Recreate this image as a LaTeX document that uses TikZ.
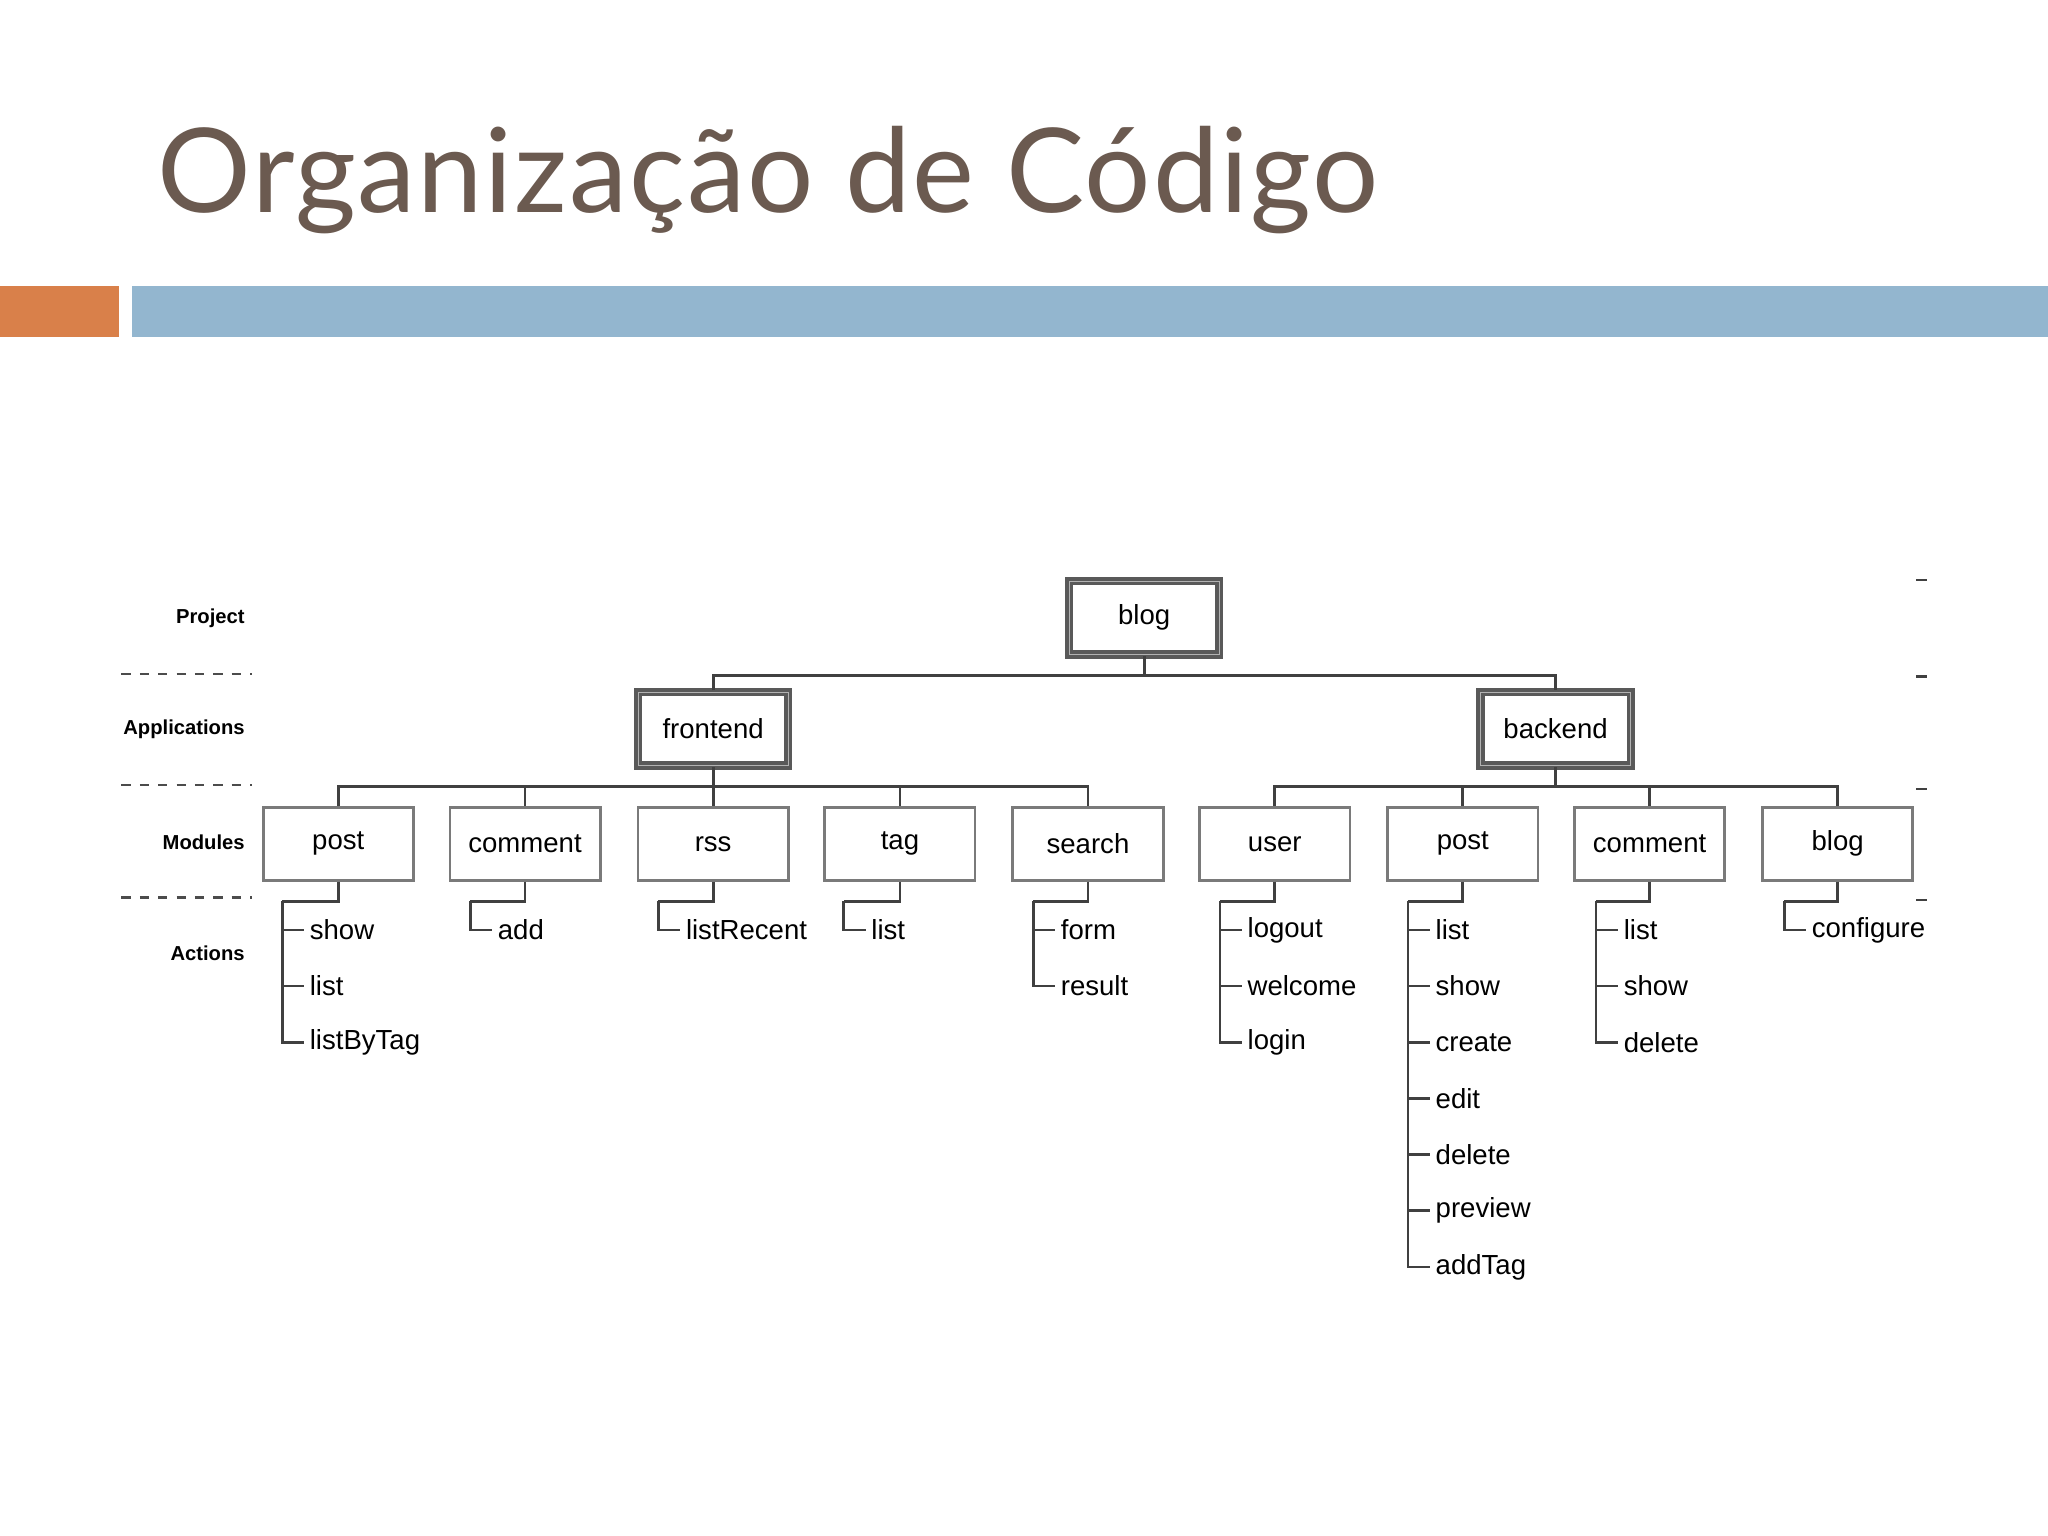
\documentclass[tikz,border=0pt]{standalone}
\usepackage{fontspec}
\setmainfont{Liberation Sans}
\newfontfamily\titlefont[LetterSpace=1.5]{Lato}
\definecolor{titlec}{HTML}{6B5A50}
\definecolor{orangebar}{HTML}{D9804A}
\definecolor{bluebar}{HTML}{93B6CF}
\definecolor{boxc}{HTML}{7A7A7A}
\tikzset{
  mod/.style={draw=boxc,line width=0.6pt,minimum width=1.15cm,minimum height=0.56cm,inner sep=0pt,font=\fontsize{6}{7}\selectfont},
  top/.style={mod,draw=black!65,line width=0.8pt,double=black!30,double distance=0.2pt},
  act/.style={inner xsep=1pt,inner ysep=0pt,font=\fontsize{6}{7}\selectfont,anchor=west},
  lvl/.style={font=\fontsize{4.4}{5}\selectfont\bfseries,anchor=east,inner sep=0pt},
  conn/.style={draw=black!75,line width=0.6pt},
  dsh/.style={draw=black!70,line width=0.6pt,dash pattern=on 2pt off 2pt}
}
\newcommand\acts[3]{%
  \draw[conn] (#1.south) |- (#2,690);
  \foreach \t [count=\i] in {#3}{
    \node[act] (#1-\i) at (#2+17,669+43*\i) {\t};
    \draw[conn] (#2,690) |- (#1-\i.west);
  }}
\begin{document}
\begin{tikzpicture}[x=0.01cm,y=-0.01cm]
\useasboundingbox (0,0) rectangle (1568,1176);
\fill[white] (0,0) rectangle (1568,1176);
\node[anchor=base west,inner sep=0pt,text=titlec,font=\titlefont\fontsize{25.5}{30}\selectfont] (title) at (120,163) {Organização de Código};
\fill[orangebar] (0,219) rectangle (91,258);
\fill[bluebar] (101,219) rectangle (1568,258);

% levels
\node[lvl] (lp) at (188,473) {Project};
\node[lvl] (la) at (188,558) {Applications};
\node[lvl] (lm) at (188,645) {Modules};
\node[lvl] (lac) at (188,730) {Actions};
\foreach \y in {516,601,687}{\draw[dsh] (93,\y) -- (193,\y);}
\foreach \y in {444,518,604,689}{\draw[conn] (1467,\y) -- (1475,\y);}

\node[top] (blog) at (876,473) {blog};
\node[top] (fe) at (546,558) {frontend};
\node[top] (be) at (1191,558) {backend};
\draw[conn] (blog.south) -- (876,517);
\draw[conn] (fe.north) |- (876,517) -| (be.north);

\draw[conn] (fe.south) -- (546,602);
\draw[conn] (be.south) -- (1191,602);
\foreach \n/\x/\l in {m1/259/post,m2/402/comment,m3/546/rss,m4/689/tag,m5/833/search}{
  \node[mod] (\n) at (\x,646) {\l};}
\draw[conn] (m1.north) |- (546,602) -| (m5.north);
\foreach \n in {m2,m3,m4}{\draw[conn] (\n.north) -- (\n.north|-0,602);}
\foreach \n/\x/\l in {m6/976/user,m7/1120/post,m8/1263/comment,m9/1407/blog}{
  \node[mod] (\n) at (\x,646) {\l};}
\draw[conn] (m6.north) |- (1191,602) -| (m9.north);
\foreach \n in {m7,m8}{\draw[conn] (\n.north) -- (\n.north|-0,602);}

\acts{m1}{216}{show,list,listByTag}
\acts{m2}{360}{add}
\acts{m3}{504}{listRecent}
\acts{m4}{646}{list}
\acts{m5}{791}{form,result}
\acts{m6}{934}{logout,welcome,login}
\acts{m7}{1078}{list,show,create,edit,delete,preview,addTag}
\acts{m8}{1222}{list,show,delete}
\acts{m9}{1366}{configure}
\end{tikzpicture}
\end{document}
